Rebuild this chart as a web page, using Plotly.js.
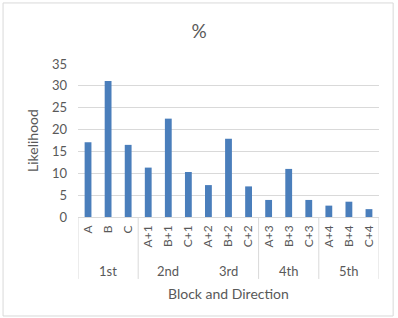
<!DOCTYPE html>
<html>
<head>
<meta charset="utf-8">
<script src="https://cdn.plot.ly/plotly-3.0.1.min.js"></script>
<style>
  html, body { margin: 0; padding: 0; background: #fff; }
  #chart { width: 398px; height: 318px; }
</style>
</head>
<body>
<div id="chart"></div>
<script>
// Direction categories along the x axis
const directions = ['A', 'B', 'C', 'A+1', 'B+1', 'C+1', 'A+2', 'B+2', 'C+2',
                    'A+3', 'B+3', 'C+3', 'A+4', 'B+4', 'C+4'];
// Likelihood (%) per direction
const likelihood = [17.1, 31.1, 16.5, 11.3, 22.5, 10.3, 7.3, 17.9, 7.0,
                    3.9, 11.0, 3.9, 2.6, 3.5, 1.8];
// Block labels: name, first and last category index they sit under
const blockNames = ['1st', '2nd', '3rd', '4th', '5th'];
const blockStart = [0, 3, 6, 9, 12];
const blockEnd = [2, 5, 8, 11, 14];
// Category indices after which a divider line is drawn in the label band
const dividerAfter = [-1, 2, 8, 11, 14];

const textColor = '#595959';
const lineColor = '#d9d9d9';
const font = 'Lato, "Open Sans", sans-serif';

const shapes = dividerAfter.map(i => ({
  type: 'line', xref: 'x', yref: 'paper',
  x0: i + 0.5, x1: i + 0.5, y0: 0, y1: -0.405,
  line: { color: lineColor, width: 1 }
}));

const annotations = blockNames.map((name, k) => ({
  text: name, xref: 'x', yref: 'paper',
  x: (blockStart[k] + blockEnd[k]) / 2, y: -0.353,
  xanchor: 'center', yanchor: 'middle', showarrow: false,
  font: { family: font, size: 13, color: textColor }
}));
// x axis title sits below the block band
annotations.push({
  text: 'Block and Direction', xref: 'paper', yref: 'paper',
  x: 0.5, y: -0.503, xanchor: 'center', yanchor: 'middle', showarrow: false,
  font: { family: font, size: 14, color: textColor }
});

const trace = {
  type: 'bar',
  x: directions.map((d, i) => i),
  y: likelihood,
  marker: { color: '#4a7ebb' },
  hoverinfo: 'x+y'
};

const layout = {
  width: 398, height: 318,
  margin: { l: 78, r: 19, t: 64, b: 101 },
  paper_bgcolor: '#fff', plot_bgcolor: '#fff',
  bargap: 0.66,
  showlegend: false,
  title: {
    text: '%', x: 0.5, xanchor: 'center', y: 0.9, yanchor: 'middle',
    font: { family: font, size: 19, color: textColor }
  },
  xaxis: {
    type: 'linear', range: [-0.5, directions.length - 0.5],
    tickmode: 'array',
    tickvals: directions.map((d, i) => i),
    ticktext: directions,
    tickangle: -90,
    ticklabelstandoff: 5,
    ticks: '', showgrid: false, zeroline: false,
    showline: false,
    tickfont: { family: font, size: 12, color: textColor },
    automargin: false
  },
  yaxis: {
    range: [0, 35], dtick: 5,
    showgrid: true, gridcolor: lineColor, gridwidth: 1,
    zeroline: true, zerolinecolor: lineColor, zerolinewidth: 1,
    showline: false, ticks: '',
    ticklabelstandoff: 10,
    tickfont: { family: font, size: 13, color: textColor },
    title: {
      text: 'Likelihood', standoff: 10,
      font: { family: font, size: 14, color: textColor }
    },
    automargin: false
  },
  shapes: shapes.concat([{
    type: 'rect', xref: 'paper', yref: 'paper',
    x0: -0.249, x1: 1.047, y0: -0.647, y1: 1.399,
    line: { color: lineColor, width: 1 }
  }]),
  annotations: annotations
};

Plotly.newPlot('chart', [trace], layout, { displayModeBar: false, staticPlot: true });
</script>
</body>
</html>
